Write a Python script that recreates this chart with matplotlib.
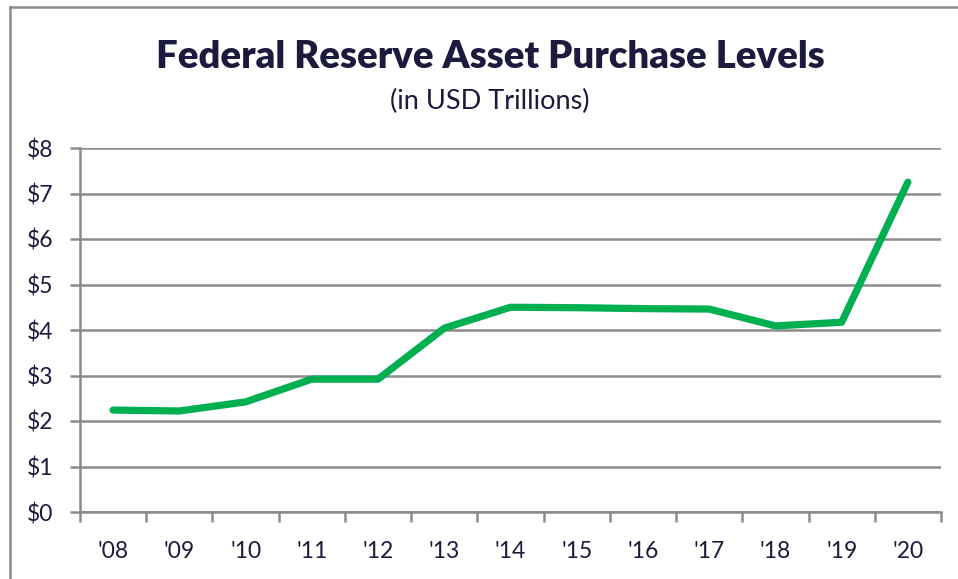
import matplotlib
matplotlib.use("Agg")
import matplotlib.pyplot as plt
from matplotlib.lines import Line2D
from matplotlib.ticker import FixedLocator, NullFormatter

years = ["'08", "'09", "'10", "'11", "'12", "'13", "'14", "'15", "'16", "'17", "'18", "'19", "'20"]
assets = [2.24, 2.22, 2.42, 2.92, 2.92, 4.04, 4.50, 4.49, 4.47, 4.46, 4.09, 4.17, 7.25]
yticks = [0, 1, 2, 3, 4, 5, 6, 7, 8]
ytick_labels = ["$0", "$1", "$2", "$3", "$4", "$5", "$6", "$7", "$8"]

plt.rcParams['font.family'] = ['Lato', 'DejaVu Sans']
navy = '#1c1a3d'
grid = '#8c8c8c'

W, H = 958, 579
fig = plt.figure(figsize=(W / 100, H / 100), dpi=100)
fig.patch.set_facecolor('white')

ax = fig.add_axes([80 / W, 1 - 512 / H, (941 - 80) / W, (512 - 148) / H])
x = list(range(len(years)))
ax.plot(x, assets, color='#00B050', lw=5.2, solid_capstyle='round', solid_joinstyle='round', zorder=3)

ax.set_xlim(-0.5, len(years) - 0.5)
ax.set_ylim(0, 8)
ax.set_yticks(yticks)
ax.set_yticklabels(ytick_labels)
ax.set_xticks(x)
ax.set_xticklabels(years)
ax.xaxis.set_minor_locator(FixedLocator([i - 0.5 for i in range(len(years) + 1)]))
ax.xaxis.set_minor_formatter(NullFormatter())
ax.tick_params(axis='x', which='major', length=0, pad=21, labelsize=16.5, labelcolor=navy)
ax.tick_params(axis='x', which='minor', length=7, width=1.8, color=grid, direction='out')
ax.tick_params(axis='y', length=7, width=1.8, color=grid, direction='out', pad=12, labelsize=16.5, labelcolor=navy)

ax.grid(axis='y', color=grid, lw=1.8, zorder=0)
ax.set_axisbelow(True)
for s in ['top', 'right']:
    ax.spines[s].set_visible(False)
for s in ['left', 'bottom']:
    ax.spines[s].set_color(grid)
    ax.spines[s].set_linewidth(1.8)

fig.text(490 / W, 1 - 57 / H, 'Federal Reserve Asset Purchase Levels', ha='center', va='center',
         fontsize=27.5, fontweight='heavy', color=navy)
fig.text(490 / W, 1 - 101 / H, '(in USD Trillions)', ha='center', va='center',
         fontsize=19.5, color=navy)

# outer border (left and top edges visible)
fig.add_artist(Line2D([10 / W, 10 / W], [0, 1 - 7 / H], transform=fig.transFigure, color='#8a8a8a', lw=1.8))
fig.add_artist(Line2D([10 / W, 1], [1 - 7 / H, 1 - 7 / H], transform=fig.transFigure, color='#8a8a8a', lw=1.8))

fig.savefig('out.png', dpi=100, facecolor='white')
